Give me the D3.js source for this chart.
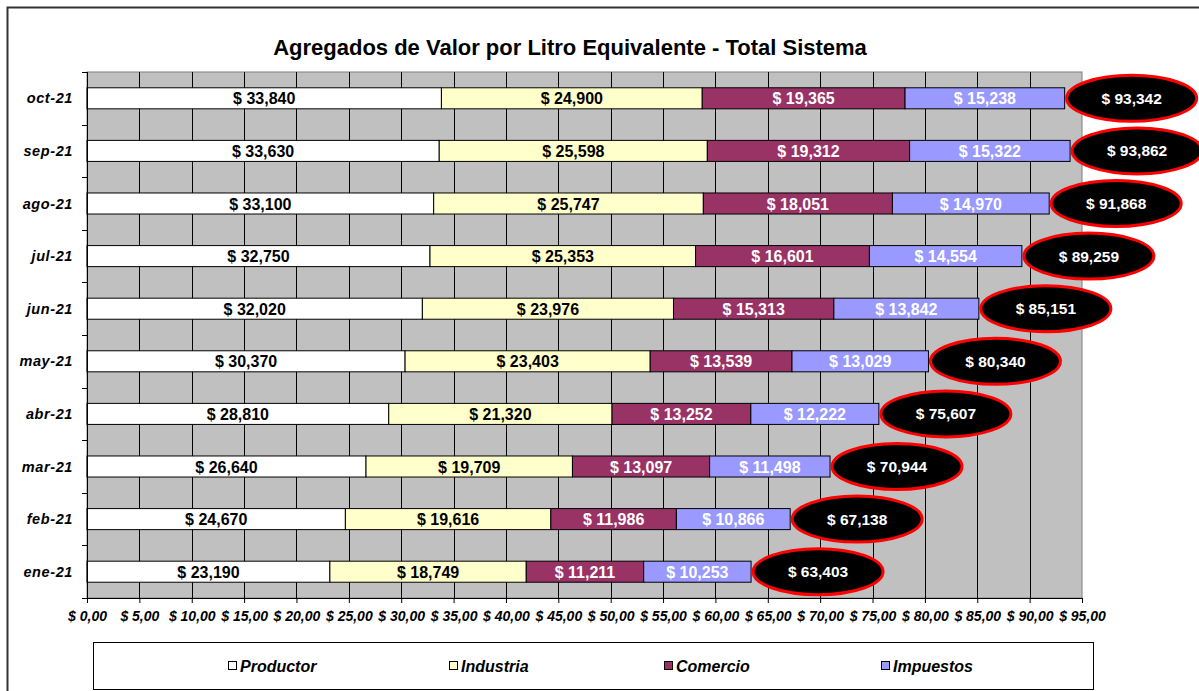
<!DOCTYPE html>
<html>
<head>
<meta charset="utf-8">
<script src="https://cdn.jsdelivr.net/npm/d3@7"></script>
<style>
  body { margin: 0; background: #fff; }
  svg { font-family: "Liberation Sans", Arial, sans-serif; }
</style>
</head>
<body>
<svg id="chart" width="1199" height="691"></svg>
<script>
const months = ['oct-21', 'sep-21', 'ago-21', 'jul-21', 'jun-21', 'may-21', 'abr-21', 'mar-21', 'feb-21', 'ene-21'];
const seriesNames = ['Productor', 'Industria', 'Comercio', 'Impuestos'];
const productor = [33840, 33630, 33100, 32750, 32020, 30370, 28810, 26640, 24670, 23190];
const industria = [24900, 25598, 25747, 25353, 23976, 23403, 21320, 19709, 19616, 18749];
const comercio = [19365, 19312, 18051, 16601, 15313, 13539, 13252, 13097, 11986, 11211];
const impuestos = [15238, 15322, 14970, 14554, 13842, 13029, 12222, 11498, 10866, 10253];
const totals = [93342, 93862, 91868, 89259, 85151, 80340, 75607, 70944, 67138, 63403];
const xTicks = [0, 5000, 10000, 15000, 20000, 25000, 30000, 35000, 40000, 45000,
  50000, 55000, 60000, 65000, 70000, 75000, 80000, 85000, 90000, 95000];

const colors = { Productor: '#ffffff', Industria: '#ffffcc', Comercio: '#993366', Impuestos: '#9999ff' };
const textColors = { Productor: '#000', Industria: '#000', Comercio: '#fff', Impuestos: '#fff' };

const rows = months.map((m, i) => ({
  month: m,
  Productor: productor[i],
  Industria: industria[i],
  Comercio: comercio[i],
  Impuestos: impuestos[i],
  total: totals[i]
}));

const svg = d3.select('#chart');
const plot = { left: 87, right: 1082, top: 72, bottom: 598 };

// outer frame
svg.append('path')
  .attr('d', 'M7.5,691 V7.5 H1199')
  .attr('fill', 'none')
  .attr('stroke', '#333')
  .attr('stroke-width', 2);

svg.append('text')
  .attr('x', 570).attr('y', 55)
  .attr('text-anchor', 'middle')
  .attr('font-size', 22).attr('font-weight', 'bold')
  .text('Agregados de Valor por Litro Equivalente - Total Sistema');

const x = d3.scaleLinear().domain([0, 95000]).range([plot.left, plot.right]);
const y = d3.scaleBand().domain(months).range([plot.top, plot.bottom]).paddingInner(0.6).paddingOuter(0.3);

svg.append('rect')
  .attr('x', plot.left).attr('y', plot.top)
  .attr('width', plot.right - plot.left).attr('height', plot.bottom - plot.top)
  .attr('fill', '#c0c0c0')
  .attr('stroke', '#808080');

// vertical grid lines
svg.append('g')
  .selectAll('line')
  .data(xTicks.slice(1, -1))
  .join('line')
  .attr('x1', d => Math.round(x(d)) + 0.5).attr('x2', d => Math.round(x(d)) + 0.5)
  .attr('y1', plot.top).attr('y2', plot.bottom)
  .attr('stroke', '#000');

const stack = d3.stack().keys(seriesNames)(rows);

const layers = svg.append('g')
  .selectAll('g')
  .data(stack)
  .join('g')
  .attr('fill', d => colors[d.key]);

layers.selectAll('rect')
  .data(d => d)
  .join('rect')
  .attr('x', d => x(d[0]))
  .attr('y', d => y(d.data.month))
  .attr('width', d => x(d[1]) - x(d[0]))
  .attr('height', y.bandwidth())
  .attr('stroke', '#000')
  .attr('stroke-width', 1);

const fmt = d3.format(',');

layers.each(function (layer) {
  d3.select(this).selectAll('text')
    .data(layer)
    .join('text')
    .attr('x', d => (x(d[0]) + x(d[1])) / 2)
    .attr('y', d => y(d.data.month) + y.bandwidth() / 2 + 6)
    .attr('text-anchor', 'middle')
    .attr('font-size', 16).attr('font-weight', 'bold')
    .attr('fill', textColors[layer.key])
    .text(d => '$ ' + fmt(d[1] - d[0]));
});

// total ellipses
const tot = svg.append('g')
  .selectAll('g')
  .data(rows)
  .join('g')
  .attr('transform', d => `translate(${x(d.total) + 67},${y(d.month) + y.bandwidth() / 2})`);

tot.append('ellipse')
  .attr('rx', 65).attr('ry', 23)
  .attr('fill', '#000')
  .attr('stroke', '#ff0000')
  .attr('stroke-width', 3);

tot.append('text')
  .attr('y', 5.5)
  .attr('text-anchor', 'middle')
  .attr('font-size', 15.5).attr('font-weight', 'bold')
  .attr('fill', '#fff')
  .text(d => '$ ' + fmt(d.total));

// axes
const xAxis = d3.axisBottom(x)
  .tickValues(xTicks)
  .tickSize(5)
  .tickSizeOuter(0)
  .tickFormat(d => '$ ' + (d / 1000).toFixed(2).replace('.', ','));

const gx = svg.append('g')
  .attr('transform', `translate(0,${plot.bottom})`)
  .call(xAxis);
gx.select('.domain').attr('stroke', '#000');
gx.selectAll('text')
  .attr('font-size', 14).attr('font-weight', 'bold').attr('font-style', 'italic')
  .attr('font-family', '"Liberation Sans", Arial, sans-serif')
  .attr('fill', '#000')
  .attr('dy', '1.1em');

// y axis: ticks between categories
const bounds = d3.range(months.length + 1).map(i => plot.top + i * (plot.bottom - plot.top) / months.length);
svg.append('line')
  .attr('x1', plot.left + 0.5).attr('x2', plot.left + 0.5)
  .attr('y1', plot.top).attr('y2', plot.bottom)
  .attr('stroke', '#000');
svg.append('g')
  .selectAll('line')
  .data(bounds)
  .join('line')
  .attr('x1', plot.left - 5).attr('x2', plot.left)
  .attr('y1', d => Math.round(d) + 0.5).attr('y2', d => Math.round(d) + 0.5)
  .attr('stroke', '#000');

svg.append('g')
  .selectAll('text')
  .data(months)
  .join('text')
  .attr('x', 73)
  .attr('y', d => y(d) + y.bandwidth() / 2 + 5)
  .attr('text-anchor', 'end')
  .attr('font-size', 14.5).attr('font-weight', 'bold').attr('font-style', 'italic')
  .attr('letter-spacing', 0.6)
  .text(d => d);

// legend
svg.append('rect')
  .attr('x', 93.5).attr('y', 642.5)
  .attr('width', 1000).attr('height', 47)
  .attr('fill', '#fff')
  .attr('stroke', '#000');

const legendX = [228, 449, 664, 881];
const lg = svg.append('g')
  .selectAll('g')
  .data(seriesNames)
  .join('g')
  .attr('transform', (d, i) => `translate(${legendX[i]},666)`);

lg.append('rect')
  .attr('x', 0.5).attr('y', -4.5)
  .attr('width', 8).attr('height', 8)
  .attr('fill', d => colors[d])
  .attr('stroke', '#000');

lg.append('text')
  .attr('x', 12).attr('y', 6)
  .attr('font-size', 16).attr('font-weight', 'bold').attr('font-style', 'italic')
  .text(d => d);
</script>
</body>
</html>
